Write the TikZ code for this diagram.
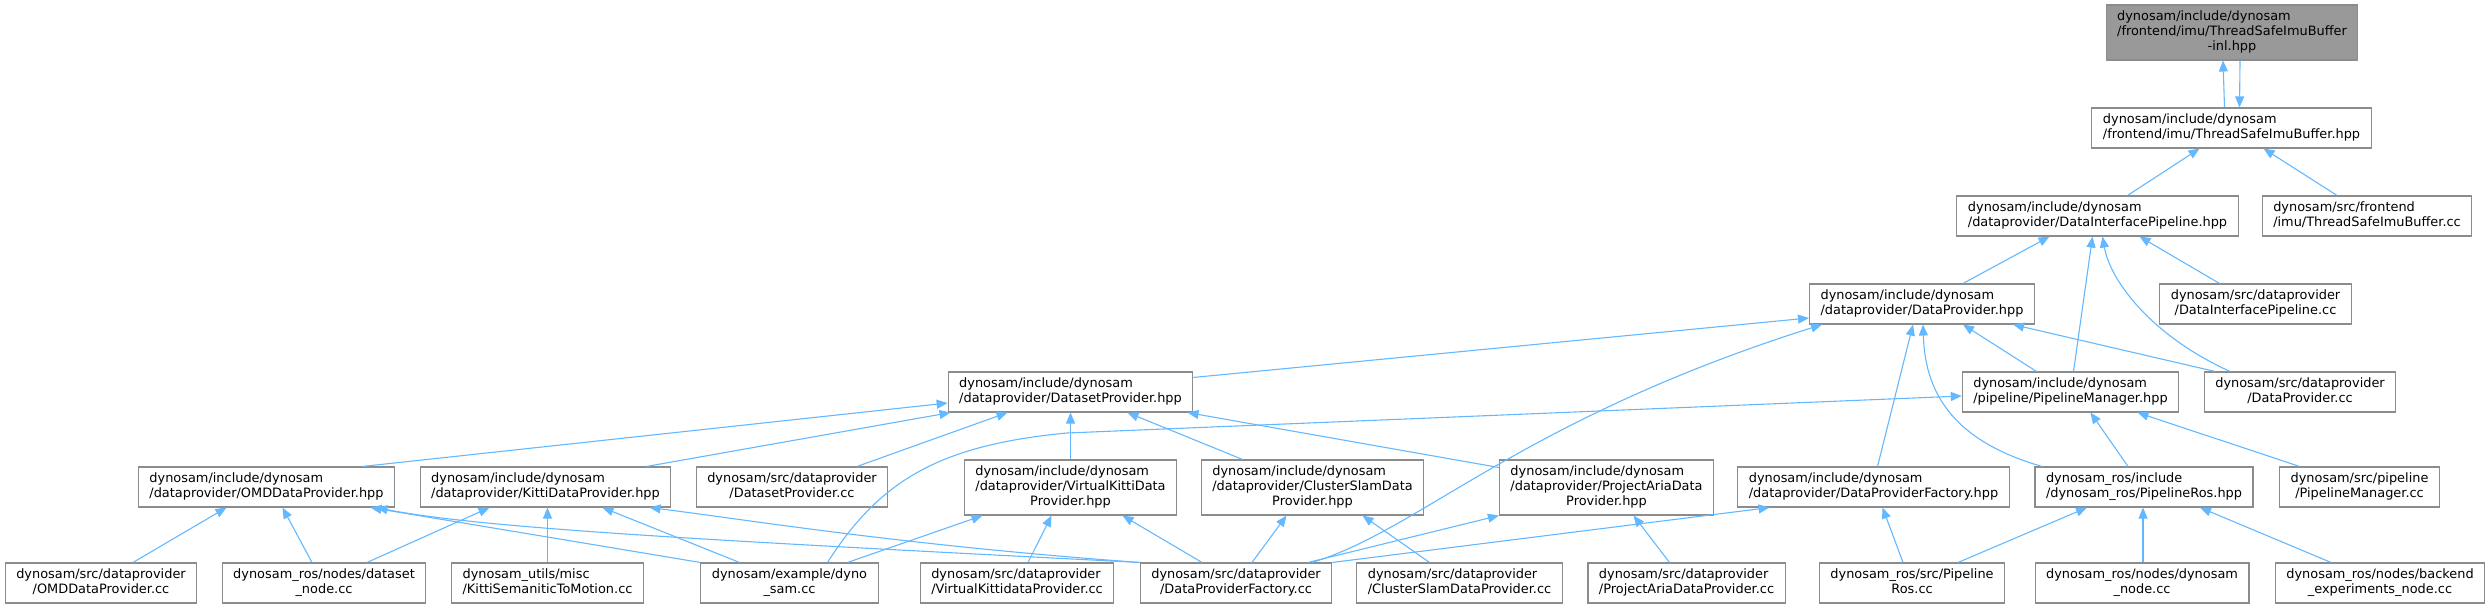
\documentclass[tikz,border=0pt]{standalone}
\usepackage{fontspec}
\setmainfont{DejaVu Sans}
\usepackage{tikz}
\usetikzlibrary{arrows.meta, positioning, calc}
\definecolor{edgeblue}{HTML}{63B8FF}
\definecolor{boxgray}{HTML}{8C8C8C}
\definecolor{rootgray}{HTML}{999999}
% all lines but the last flush left, the last one centred
\newcommand{\flab}[2]{\begin{tabular}{@{}l@{}}#1\\\multicolumn{1}{@{}c@{}}{#2}\end{tabular}}

\begin{document}
\begin{tikzpicture}[x=1pt, y=-1pt,
    font=\fontsize{12.9}{15}\selectfont,
    box/.style={draw=boxgray, line width=1.1pt, fill=white, inner xsep=11pt,
                inner ysep=0pt, minimum height=40pt},
    tall/.style={box, minimum height=55pt},
    root/.style={tall, fill=rootgray},
    arr/.style={-{Triangle[length=11pt, width=9pt]}, edgeblue, line width=1.1pt}]
    \useasboundingbox (0,0) rectangle (2491,608);
    \node[root] (imuinl)  at (2232,32.5)   {\flab{dynosam/include/dynosam\\/frontend/imu/ThreadSafeImuBuffer}{-inl.hpp}};
    \node[box]  (imuhpp)  at (2231.5,128)  {\flab{dynosam/include/dynosam}{/frontend/imu/ThreadSafeImuBuffer.hpp}};
    \node[box]  (dipipe)  at (2097.5,216)  {\flab{dynosam/include/dynosam}{/dataprovider/DataInterfacePipeline.hpp}};
    \node[box]  (imucc)   at (2367,216)    {\flab{dynosam/src/frontend}{/imu/ThreadSafeImuBuffer.cc}};
    \node[box]  (dprov)   at (1922,304)    {\flab{dynosam/include/dynosam}{/dataprovider/DataProvider.hpp}};
    \node[box]  (dipcc)   at (2255.5,304)  {\flab{dynosam/src/dataprovider}{/DataInterfacePipeline.cc}};
    \node[box]  (dsprov)  at (1070.5,392)  {\flab{dynosam/include/dynosam}{/dataprovider/DatasetProvider.hpp}};
    \node[box]  (pmgr)    at (2070.5,392)  {\flab{dynosam/include/dynosam}{/pipeline/PipelineManager.hpp}};
    \node[box]  (dprovcc) at (2300,392)    {\flab{dynosam/src/dataprovider}{/DataProvider.cc}};
    \node[box]  (omd)     at (266.5,487)   {\flab{dynosam/include/dynosam}{/dataprovider/OMDDataProvider.hpp}};
    \node[box]  (kitti)   at (545.5,487)   {\flab{dynosam/include/dynosam}{/dataprovider/KittiDataProvider.hpp}};
    \node[box]  (dsprovcc) at (792,487)    {\flab{dynosam/src/dataprovider}{/DatasetProvider.cc}};
    \node[tall] (vkitti)  at (1070.5,487.5) {\flab{dynosam/include/dynosam\\/dataprovider/VirtualKittiData}{Provider.hpp}};
    \node[tall] (cslam)   at (1312.5,487.5) {\flab{dynosam/include/dynosam\\/dataprovider/ClusterSlamData}{Provider.hpp}};
    \node[tall] (paria)   at (1606.5,487.5) {\flab{dynosam/include/dynosam\\/dataprovider/ProjectAriaData}{Provider.hpp}};
    \node[box]  (dpfact)  at (1873.5,487)  {\flab{dynosam/include/dynosam}{/dataprovider/DataProviderFactory.hpp}};
    \node[box]  (pros)    at (2144,487)    {\flab{dynosam\_ros/include}{/dynosam\_ros/PipelineRos.hpp}};
    \node[box]  (pmgrcc)  at (2359.5,487)  {\flab{dynosam/src/pipeline}{/PipelineManager.cc}};
    \node[box]  (omdcc)   at (101,583)     {\flab{dynosam/src/dataprovider}{/OMDDataProvider.cc}};
    \node[box]  (dsnode)  at (324,583)     {\flab{dynosam\_ros/nodes/dataset}{\_node.cc}};
    \node[box]  (kstm)    at (547.5,583)   {\flab{dynosam\_utils/misc}{/KittiSemaniticToMotion.cc}};
    \node[box]  (dynocc)  at (789.5,583)   {\flab{dynosam/example/dyno}{\_sam.cc}};
    \node[box]  (vkcc)    at (1017,583)    {\flab{dynosam/src/dataprovider}{/VirtualKittidataProvider.cc}};
    \node[box]  (dpfcc)   at (1236,583)    {\flab{dynosam/src/dataprovider}{/DataProviderFactory.cc}};
    \node[box]  (cscc)    at (1459.5,583)  {\flab{dynosam/src/dataprovider}{/ClusterSlamDataProvider.cc}};
    \node[box]  (pacc)    at (1686.5,583)  {\flab{dynosam/src/dataprovider}{/ProjectAriaDataProvider.cc}};
    \node[box]  (proscc)  at (1912,583)    {\flab{dynosam\_ros/src/Pipeline}{Ros.cc}};
    \node[box]  (dnode)   at (2142,583)    {\flab{dynosam\_ros/nodes/dynosam}{\_node.cc}};
    \node[box]  (bnode)   at (2380,583)    {\flab{dynosam\_ros/nodes/backend}{\_experiments\_node.cc}};
    % imu buffer and data interface
    \draw[arr] ([xshift=-7]imuhpp.north) -- ([xshift=-9]imuinl.south);
    \draw[arr] ([xshift=8]imuinl.south) -- ([xshift=8]imuhpp.north);
    \draw[arr] ([xshift=30]dipipe.north) -- ([xshift=-32]imuhpp.south);
    \draw[arr] ([xshift=-30]imucc.north) -- ([xshift=32]imuhpp.south);
    \draw[arr] ([xshift=41]dprov.north) -- ([xshift=-48]dipipe.south);
    \draw[arr] ([xshift=3]pmgr.north) -- ([xshift=-5]dipipe.south);
    \draw[arr] ([xshift=-70]dprovcc.north) .. controls (2150,335) and (2110,280) .. ([xshift=5]dipipe.south);
    \draw[arr] ([xshift=-36]dipcc.north) -- ([xshift=42]dipipe.south);
    % data provider
    \draw[arr] ([yshift=-6]dsprov.north east) -- ([yshift=-14]dprov.west);
    \draw[arr] ([xshift=76]dpfcc.north) .. controls (1420,530) and (1520,420) .. ([xshift=-100]dprov.south);
    \draw[arr] ([xshift=4]dpfact.north) -- ([xshift=-9]dprov.south);
    \draw[arr] ([xshift=-102]pros.north) .. controls (1950,440) and (1925,390) .. ([xshift=1]dprov.south);
    \draw[arr] ([xshift=-34]pmgr.north) -- ([xshift=41]dprov.south);
    \draw[arr] ([xshift=-85]dprovcc.north) -- ([xshift=91]dprov.south);
    % pipeline manager
    \draw[arr] ([xshift=38]dynocc.north) .. controls (880,480) and (940,445) .. (1067,433) -- ([yshift=-4]pmgr.west);
    \draw[arr] ([xshift=-16]pros.north) -- ([xshift=20]pmgr.south);
    \draw[arr] ([xshift=-60]pmgrcc.north) -- ([xshift=67]pmgr.south);
    % pipeline ros and factory
    \draw[arr] ([xshift=46]proscc.north) -- ([xshift=-57]pros.south);
    \draw[arr] ([xshift=1]dnode.north) -- ([xshift=-1]pros.south);
    \draw[arr] ([xshift=-49]bnode.north) -- ([xshift=56]pros.south);
    \draw[arr] ([xshift=-9]proscc.north) -- ([xshift=9]dpfact.south);
    \draw[arr] (dpfcc.north east) -- ([xshift=-104]dpfact.south);
    % dataset provider
    \draw[arr] ([xshift=96]omd.north) -- ([yshift=-11]dsprov.west);
    \draw[arr] ([xshift=101]kitti.north) -- ([xshift=-120]dsprov.south);
    \draw[arr] ([xshift=65]dsprovcc.north) -- ([xshift=-63]dsprov.south);
    \draw[arr] (vkitti.north) -- (dsprov.south);
    \draw[arr] ([xshift=-70]cslam.north) -- ([xshift=57]dsprov.south);
    \draw[arr] ([yshift=20]paria.west) -- ([xshift=117]dsprov.south);
    % omd and kitti
    \draw[arr] ([xshift=32]omdcc.north) -- ([xshift=-40]omd.south);
    \draw[arr] ([xshift=-12]dsnode.north) -- ([xshift=16]omd.south);
    \draw[arr] (dynocc.north west) -- ([xshift=104]omd.south);
    \draw[arr] (dpfcc.north west) .. controls (700,540) and (480,528) .. ([xshift=110]omd.south);
    \draw[arr] ([xshift=43]dsnode.north) -- ([xshift=-56]kitti.south);
    \draw[arr] (kstm.north) -- ([xshift=2]kitti.south);
    \draw[arr] ([xshift=-50]dynocc.north) -- ([xshift=57]kitti.south);
    \draw[arr] (dpfcc.north west) .. controls (900,545) and (750,520) .. ([xshift=104]kitti.south);
    % data set readers
    \draw[arr] ([xshift=58]dynocc.north) -- ([xshift=-88]vkitti.south);
    \draw[arr] ([xshift=11]vkcc.north) -- ([xshift=-19]vkitti.south);
    \draw[arr] ([xshift=-34]dpfcc.north) -- ([xshift=52]vkitti.south);
    \draw[arr] ([xshift=16]dpfcc.north) -- ([xshift=-26]cslam.south);
    \draw[arr] ([xshift=-30]cscc.north) -- ([xshift=50]cslam.south);
    \draw[arr] ([xshift=72]dpfcc.north) -- (paria.south west);
    \draw[arr] ([xshift=-17]pacc.north) -- ([xshift=27]paria.south);
\end{tikzpicture}
\end{document}
